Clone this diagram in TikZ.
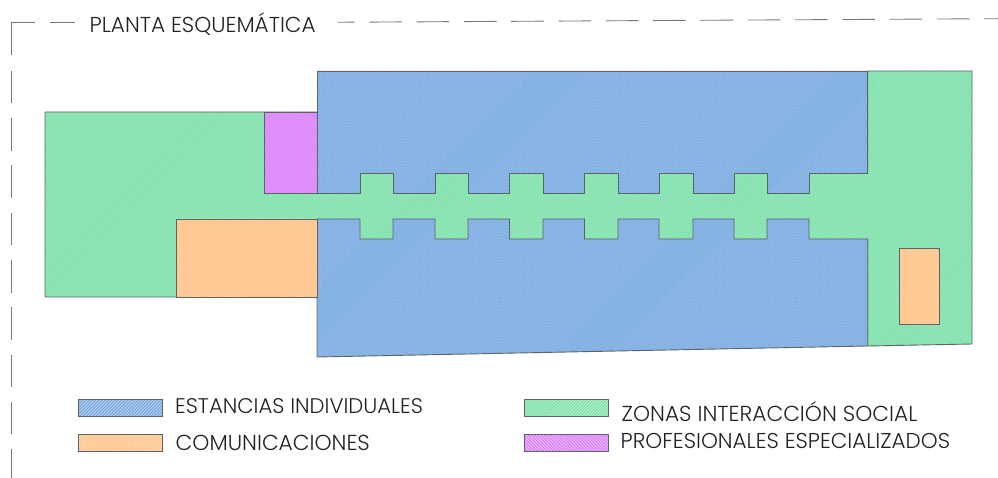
\documentclass[tikz,border=0pt]{standalone}
\usepackage{fontspec}
\setmainfont{Poppins}[UprightFont=* Light]
\usetikzlibrary{patterns.meta}
\definecolor{gr}{HTML}{82E2AE}
\definecolor{bl}{HTML}{7EADE2}
\definecolor{or}{HTML}{FFC58C}
\definecolor{pu}{HTML}{DC85FB}
\definecolor{ln}{HTML}{5E6466}
\definecolor{dashc}{HTML}{777777}
\definecolor{tx}{HTML}{222222}
\tikzset{
  zone/.style={draw=ln,line width=.9pt,line join=miter},
  frameline/.style={draw=dashc,line width=.9pt},
  framedash/.style={frameline,dash pattern=on 32.6pt off 14.7pt},
  lab/.style={inner sep=0pt,anchor=west,text=tx,font=\fontsize{#1}{24pt}\selectfont},
  lab/.default={21.5pt},
}
% base colour, then a fine pale hatch over it
\newcommand{\zonefill}[4]{%
  \fill[#1] #4;
  \fill[pattern={Lines[angle=#2,distance=2.3pt,line width=.5pt]},pattern color=#3] #4;
}
\begin{document}
\begin{tikzpicture}[x=1pt,y=-1pt]
\useasboundingbox (0,0) rectangle (998,478);
% frame
\draw[frameline] (35,22.3) -- (11.5,22.3) -- (11.5,55);
\draw[frameline] (50,22.3) -- (75,22.3);
\draw[framedash] (11.5,70.7) -- (11.5,478);
\draw[frameline] (338,22.3) -- (354.6,22.1);
\draw[framedash] (369.3,22.1) -- (998,18.7);
\node[lab=21.6pt] (title) at (89.5,24) {PLANTA ESQUEMÁTICA};
% green (social zones)
\def\pgreen{(45,112) -- (317,112) -- (317,170) -- (867.7,170) -- (867.7,71) -- (972,71) -- (972,344) -- (867.7,346) -- (867.7,241) -- (317,241) -- (317,297) -- (45,297) -- cycle}
\zonefill{gr}{45}{gr!70!white}{\pgreen}
\draw[zone] \pgreen;
% blue
\def\pbluetop{(317,71) -- (867.7,71) -- (867.7,173.5) -- (809,173.5) -- (809,193.5) -- (767,193.5) -- (767,173.5) -- (734,173.5) -- (734,193.5) -- (693,193.5) -- (693,173.5) -- (659,173.5) -- (659,193.5) -- (618,193.5) -- (618,173.5) -- (584.5,173.5) -- (584.5,193.5) -- (543,193.5) -- (543,173.5) -- (509.5,173.5) -- (509.5,193.5) -- (468,193.5) -- (468,173.5) -- (435,173.5) -- (435,193.5) -- (393,193.5) -- (393,173.5) -- (360,173.5) -- (360,193.5) -- (317,193.5) -- cycle}
\def\pbluebot{(317,219) -- (360,219) -- (360,239) -- (393,239) -- (393,219) -- (435,219) -- (435,239) -- (468,239) -- (468,219) -- (509.5,219) -- (509.5,239) -- (543,239) -- (543,219) -- (584.5,219) -- (584.5,239) -- (618,239) -- (618,219) -- (659,219) -- (659,239) -- (693,239) -- (693,219) -- (734,219) -- (734,239) -- (767,239) -- (767,219) -- (809,219) -- (809,239) -- (867.7,239) -- (867.7,346) -- (317,357) -- cycle}
\zonefill{bl}{45}{bl!70!white}{\pbluetop}
\draw[zone] \pbluetop;
\zonefill{bl}{45}{bl!70!white}{\pbluebot}
\draw[zone] \pbluebot;
% purple
\def\ppurple{(264,112) rectangle (317,193.5)}
\zonefill{pu}{-45}{pu!70!white}{\ppurple}
\draw[zone] \ppurple;
% orange
\def\porangea{(176,219) rectangle (317,297)}
\def\porangeb{(899.3,248.3) rectangle (939.7,324)}
\zonefill{or}{-45}{or!70!white}{\porangea}
\draw[zone] \porangea;
\zonefill{or}{-45}{or!70!white}{\porangeb}
\draw[zone] \porangeb;
% legend
\def\kblue{(78.7,399.3) rectangle (162.7,416.7)}
\def\korange{(78.7,434.3) rectangle (162.7,451.3)}
\def\kgreen{(524,399.3) rectangle (608.7,416.7)}
\def\kpurple{(524,434.3) rectangle (608.7,451.3)}
\zonefill{bl}{45}{bl!40!white}{\kblue}
\draw[zone] \kblue;
\zonefill{or}{-45}{or!40!white}{\korange}
\draw[zone] \korange;
\zonefill{gr}{45}{gr!40!white}{\kgreen}
\draw[zone] \kgreen;
\zonefill{pu}{-45}{pu!40!white}{\kpurple}
\draw[zone] \kpurple;
\node[lab=21.2pt] (l1) at (175,406.5) {ESTANCIAS INDIVIDUALES};
\node[lab=21.7pt] (l2) at (175.5,442.5) {COMUNICACIONES};
\node[lab=21.7pt] (l3) at (621.5,411.5) {ZONAS INTERACCIÓN SOCIAL};
\node[lab=21.5pt] (l4) at (620.5,440.5) {PROFESIONALES ESPECIALIZADOS};
\end{tikzpicture}
\end{document}
